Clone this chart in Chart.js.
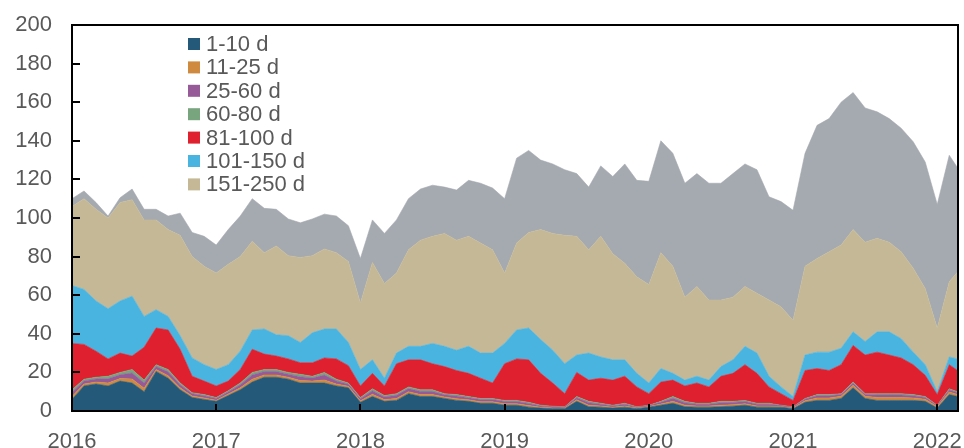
<!DOCTYPE html>
<html><head><meta charset="utf-8">
<script src="https://cdn.jsdelivr.net/npm/chart.js@4"></script>
<style>html,body{margin:0;padding:0;background:#fff}canvas{display:block}</style>
</head><body>
<canvas id="c" width="964" height="448"></canvas>
<script>
const seriesNames = ['1-10 d','11-25 d','25-60 d','60-80 d','81-100 d','101-150 d','151-250 d','>250 d'];
const legendNames = ['1-10 d','11-25 d','25-60 d','60-80 d','81-100 d','101-150 d','151-250 d'];
const yearTicks = [2016,2017,2018,2019,2020,2021,2022];
const yTicks = [0,20,40,60,80,100,120,140,160,180,200];

// monthly observation dates (1st of each month, Jan 2016 - Feb 2022) plus the last observation
const dates = [];
for (let y = 2016; y <= 2022; y++) for (let m = 1; m <= 12; m++) {
  if (y === 2022 && m > 2) break;
  dates.push(y + '-' + String(m).padStart(2,'0') + '-01');
}
dates.push('2022-02-22');

const d1_10 = [6,13,14,13,15.5,14.5,10,20.5,17,11, 7,6,5,8,11,15,17.5,17.5,16.5,14.5, 14.5,14.5,13,12,4.5,7.5,5,5.5,9,7.5, 7.5,6.5,5.5,5,4,4,3,3,2,1.5, 1.2,1.2,5,2.2,2,1.5,2,1.2,2,3, 4,2.2,2,2,2.2,2.5,3,2,2,2, 1.2,4.5,5.5,5.5,6.5,12,6.5,5.5,5.5,5.5, 5.5,5,1.5,8.5,7.5];
const d11_25 = [1.5,1.0,1.0,1.5,1.3,2.1,1.8,1.0,1.3,1.0, 0.8,0.8,0.6,0.8,1.0,1.5,1.2,1.2,1.0,1.3, 1.0,1.6,1.0,0.8,0.8,1.2,0.9,1.0,1.0,1.0, 1.0,0.8,0.9,0.8,0.8,0.8,0.8,0.8,0.8,0.5, 0.4,0.3,0.8,0.8,0.6,0.5,0.6,0.3,0.3,0.6, 1.0,0.8,0.6,0.6,0.8,0.8,0.8,0.6,0.6,0.3, 0.3,0.8,1.3,1.3,1.1,1.3,1.1,1.5,1.5,1.5, 1.3,1.1,0.7,1.3,1.1];
const d25_60 = [2.2,1.6,1.6,2.2,2.0,3.1,2.7,1.6,2.0,1.6, 1.1,1.1,0.9,1.1,1.6,2.2,1.8,1.8,1.6,2.0, 1.6,2.5,1.6,1.1,1.1,1.8,1.4,1.6,1.6,1.6, 1.6,1.1,1.4,1.1,1.1,1.1,1.1,1.1,1.1,0.6, 0.6,0.5,1.1,1.3,0.9,0.6,0.9,0.5,0.5,0.9, 1.6,1.3,0.9,0.9,1.3,1.1,1.1,0.9,0.9,0.5, 0.5,0.8,1.1,1.1,0.9,1.1,0.9,1.3,1.3,1.3, 1.1,0.9,0.5,1.1,0.9];
const d60_80 = [1.3,0.9,0.9,1.3,1.2,1.8,1.5,0.9,1.2,0.9, 0.6,0.6,0.5,0.6,0.9,1.3,1.0,1.0,0.9,1.2, 0.9,1.4,0.9,0.6,0.6,1.0,0.7,0.9,0.9,0.9, 0.9,0.6,0.7,0.6,0.6,0.6,0.6,0.6,0.6,0.4, 0.3,0.2,0.6,0.7,0.5,0.4,0.5,0.2,0.2,0.5, 0.9,0.7,0.5,0.5,0.7,0.6,0.6,0.5,0.5,0.2, 0.2,0.4,0.6,0.6,0.5,0.6,0.5,0.7,0.7,0.7, 0.6,0.5,0.3,0.6,0.5];
const d81_100 = [24,18,13.5,9,10,7,17,19,20.5,17.5, 8.5,7,6,5,7,12,8,7,7,6, 7,7.5,10.5,9,6,8,5,15.5,14,15.5, 13.5,14,12.5,12,10.5,8,19,21.5,22,16.5, 12,6.8,12.5,11,13,13,14,10.3,6,10, 8.5,8,10.5,8.5,13,14.5,18.5,15.5,8.5,6, 3.3,14.5,13.5,12.5,15,19,20,21.5,20,18.5, 15.5,11,5.5,12.5,11];
const d101_150 = [30,28.5,26,26,27,31,16,9.5,7,7, 9.5,8.5,8.5,8.5,9.5,10,13,11,12,10.5, 15.5,15,15.5,12,8.5,7,4,5.5,7,7, 10.5,10.5,10.5,14,13,15.5,10.5,15,16.5,17.5, 17,15.5,9,14,11,10.5,8.5,7,5.5,7, 3.5,3,3.5,3.5,5,7,9.5,10.5,5.5,3.5, 2,8,8.5,9.5,8.5,7,7,10.5,12,10, 6.5,5.5,1.5,4,6];
const d151_250 = [41,47,47.5,47,51,50,50,46.5,45,52, 52.5,51,50,52,49,46,39.5,46,41.5,44, 40,41.5,39.5,42,34.5,50.5,49,41.5,50,55, 55.5,58.5,57,57,57,53.5,36.5,45,49.5,57, 60.5,66.5,61.5,53.5,62.5,55,50,50,51,60, 55.5,43,46.5,41.5,34.5,32.5,31,31,39.5,41.5, 39.5,46,48.5,52,53.5,53,51.5,48.5,46.5,45, 43.5,39.5,33,39,45];
const d251plus = [4,4,3.5,1,2.5,5.5,5.5,5.5,7,11.5, 12.5,15.5,14.5,18,21,22,23,19,19,18, 19,18,19,18.5,23,22,26,27.5,26.5,26.5, 26.5,24,26,29,31,32,38.5,44,42.5,36, 36,34,32.5,32.5,36.5,40,51.5,50,53.5,58, 58.5,59,58.5,60.5,60.5,64,63.5,64,53.5,54.5, 57,58.5,69,69,74,71,69.5,65.5,64,64, 65.5,65.5,64,65.5,54];

const layers = [d1_10, d11_25, d25_60, d60_80, d81_100, d101_150, d151_250, d251plus];
const colors = ['#24597A','#D08A3F','#955A97','#78A57E','#DF202F','#49B4E0','#C4B896','#A5AAB0'];

function toYear(s) {
  const p = s.split('-').map(Number);
  return p[0] + (p[1] - 1) / 12 + (p[2] - 1) / 365;
}
const xs = dates.map(toYear);

const FONT = "'Liberation Sans', Arial, sans-serif";
const TEXT = '#595959';

const framePlugin = {
  id: 'frameAndLegend',
  afterDraw(chart) {
    const ctx = chart.ctx, a = chart.chartArea, x = chart.scales.x, y = chart.scales.y;
    ctx.save();
    ctx.strokeStyle = '#000';
    ctx.lineWidth = 2;
    ctx.beginPath();
    ctx.rect(a.left, a.top, a.right - a.left, a.bottom - a.top);
    y.ticks.forEach(t => { const py = Math.round(y.getPixelForValue(t.value)); ctx.moveTo(a.left, py); ctx.lineTo(a.left + 8, py); });
    x.ticks.forEach(t => { const px = Math.round(x.getPixelForValue(t.value)); ctx.moveTo(px, a.bottom); ctx.lineTo(px, a.bottom - 7); });
    ctx.stroke();
    // legend
    ctx.font = '22px ' + FONT;
    ctx.textBaseline = 'middle';
    ctx.textAlign = 'left';
    const lx = a.left + 116, ly = a.top + 19, step = 23.4;
    legendNames.forEach((n, i) => {
      const cy = ly + i * step;
      ctx.fillStyle = colors[i];
      ctx.fillRect(lx, cy - 6, 12, 12);
      ctx.fillStyle = TEXT;
      ctx.fillText(n, lx + 18, cy + 1);
    });
    ctx.restore();
  }
};

new Chart(document.getElementById('c'), {
  type: 'line',
  data: {
    datasets: layers.map((arr, i) => ({
      label: seriesNames[i],
      data: arr.map((v, j) => ({x: xs[j], y: v})),
      backgroundColor: colors[i],
      borderColor: colors[i],
      borderWidth: 0.6,
      pointRadius: 0,
      tension: 0,
      fill: i === 0 ? 'origin' : '-1'
    }))
  },
  options: {
    responsive: false,
    animation: false,
    devicePixelRatio: 1,
    layout: {padding: {top: 25, right: 6, left: 0, bottom: 0}},
    plugins: {legend: {display: false}, tooltip: {enabled: false}},
    scales: {
      x: {
        type: 'linear',
        min: 2016,
        max: 2022.144,
        afterBuildTicks: s => { s.ticks = yearTicks.map(v => ({value: v})); },
        afterFit: s => { s.height = 37; s.paddingLeft = 0; s.paddingRight = 0; },
        grid: {display: false, drawTicks: false},
        border: {display: false},
        ticks: {autoSkip: false, maxRotation: 0, padding: 18, color: TEXT, font: {family: FONT, size: 22},
          callback: v => String(v)}
      },
      y: {
        stacked: true,
        min: 0, max: 200,
        afterBuildTicks: s => { s.ticks = yTicks.map(v => ({value: v})); },
        afterFit: s => { s.width = 72; s.paddingTop = 0; s.paddingBottom = 0; },
        grid: {display: false, drawTicks: false},
        border: {display: false},
        ticks: {padding: 20, color: TEXT, font: {family: FONT, size: 22}}
      }
    }
  },
  plugins: [framePlugin]
});
</script>
</body></html>
